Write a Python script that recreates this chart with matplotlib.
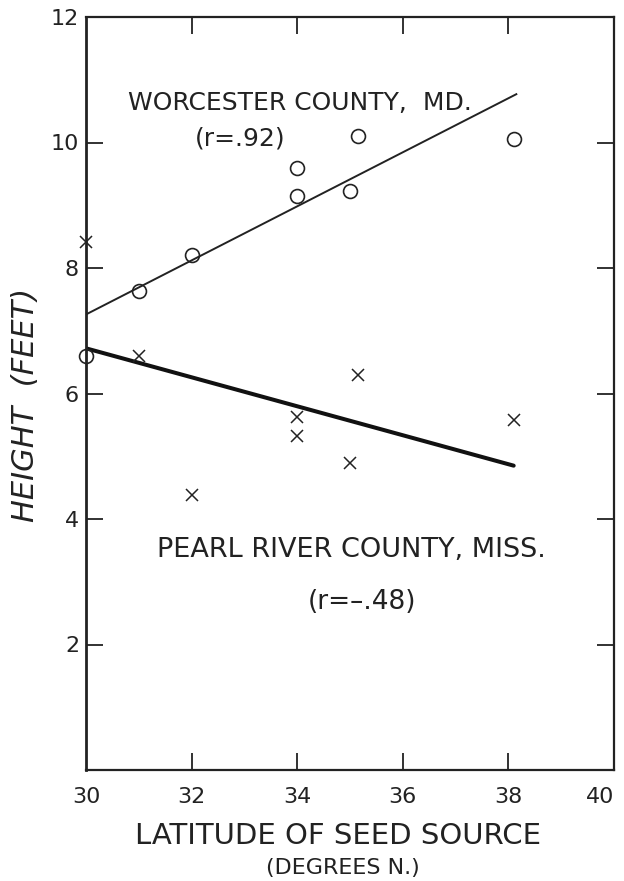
import matplotlib
matplotlib.use("Agg")
import matplotlib.pyplot as plt

# Worcester County, Md. (circles)
worcester_lat = [30.0, 31.0, 32.0, 34.0, 34.0, 35.0, 35.15, 38.1]
worcester_height = [6.6, 7.63, 8.2, 9.6, 9.14, 9.23, 10.1, 10.05]
worcester_fit_lat = [30.0, 38.15]
worcester_fit_height = [7.26, 10.77]

# Pearl River County, Miss. (crosses)
pearl_lat = [30.0, 31.0, 32.0, 34.0, 34.0, 35.0, 35.15, 38.1]
pearl_height = [8.42, 6.6, 4.38, 5.63, 5.32, 4.89, 6.29, 5.58]
pearl_fit_lat = [30.0, 38.1]
pearl_fit_height = [6.72, 4.85]

x_ticks = [30, 32, 34, 36, 38, 40]
y_ticks = [2, 4, 6, 8, 10, 12]

INK = "#222222"
plt.rcParams["font.family"] = "DejaVu Sans"

fig = plt.figure(figsize=(6.24, 8.81), dpi=100)
ax = fig.add_axes([86 / 624, 1 - 770 / 881, 528 / 624, 753 / 881])

ax.plot(worcester_fit_lat, worcester_fit_height, color=INK, lw=1.4)
ax.plot(pearl_fit_lat, pearl_fit_height, color="#111111", lw=2.9,
        solid_capstyle="round")
ax.plot(worcester_lat, worcester_height, "o", ms=10, mfc="none",
        mec=INK, mew=1.2, clip_on=False)
ax.plot(pearl_lat, pearl_height, "x", ms=8, mec=INK, mew=1.1,
        clip_on=False)

ax.set_xlim(30, 40)
ax.set_ylim(0, 12)

ax.set_xticks(x_ticks)
ax.set_yticks(y_ticks)
ax.tick_params(direction="in", length=12, width=1.3, color=INK,
               labelsize=16, labelcolor=INK, top=True, right=True)
ax.tick_params(axis="x", pad=12)
ax.tick_params(axis="y", pad=5)

# no tick marks in the corners; keep "40" inside the figure
xt = ax.xaxis.get_major_ticks()
for t in (xt[0], xt[-1]):
    t.tick1line.set_visible(False)
    t.tick2line.set_visible(False)
xt[-1].label1.set_horizontalalignment("right")
yt = ax.yaxis.get_major_ticks()
yt[-1].tick1line.set_visible(False)
yt[-1].tick2line.set_visible(False)

for side, sp in ax.spines.items():
    sp.set_color(INK)
    sp.set_linewidth(2.0 if side == "left" else 1.6)

ax.set_xlabel("LATITUDE OF SEED SOURCE", fontsize=21, color=INK,
              va="center")
ax.xaxis.set_label_coords(0.477, -0.0877)
fig.text(343 / 624, 1 - 868 / 881, "(DEGREES N.)", fontsize=16,
         color=INK, ha="center", va="center")
ax.set_ylabel("HEIGHT  (FEET)", fontsize=22, fontstyle="italic",
              color=INK, va="center")
ax.yaxis.set_label_coords(-0.1155, 0.485)

ax.text(30.8, 10.63, "WORCESTER COUNTY,  MD.", fontsize=18, color=INK,
        ha="left", va="center")
ax.text(32.06, 10.07, "(r=.92)", fontsize=18, color=INK,
        ha="left", va="center")
ax.text(31.34, 3.5, "PEARL RIVER COUNTY, MISS.", fontsize=19.5,
        color=INK, ha="left", va="center")
ax.text(34.2, 2.68, "(r=\u2013.48)", fontsize=19, color=INK,
        ha="left", va="center")

fig.savefig("out.png", dpi=100, facecolor="white")
